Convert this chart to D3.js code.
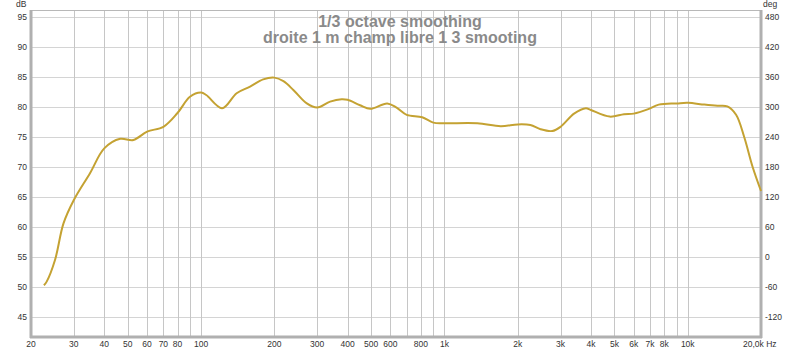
<!DOCTYPE html>
<html>
<head>
<meta charset="utf-8">
<script src="https://cdn.jsdelivr.net/npm/d3@7/dist/d3.min.js"></script>
<style>
  body { margin: 0; background: #fff; }
  svg text { font-family: "Liberation Sans", Arial, sans-serif; }
</style>
</head>
<body>
<svg id="chart" width="800" height="352"></svg>
<script>
// frequency response (Hz, dB)
const freqs = [22.6, 23.2, 25.1, 27.2, 30, 35, 40, 46.5, 52.7, 60, 70, 80, 90, 100, 105, 122, 140, 159, 180, 200, 218, 240, 272, 300, 339, 378, 400, 450, 496, 582, 636, 700, 810, 900, 1000, 1366, 1704, 2000, 2256, 2482, 2775, 3000, 3410, 3814, 4000, 4778, 5468, 6000, 6840, 7600, 9000, 10000, 11700, 13240, 14540, 15800, 17060, 18480, 20000];
const spl   = [50.3, 50.9, 54.5, 60.6, 64.5, 69.0, 73.1, 74.7, 74.5, 75.9, 76.7, 79.0, 81.7, 82.4, 82.0, 79.8, 82.3, 83.4, 84.6, 84.9, 84.3, 82.8, 80.6, 79.9, 80.9, 81.3, 81.2, 80.3, 79.7, 80.6, 79.9, 78.7, 78.3, 77.4, 77.3, 77.3, 76.8, 77.1, 77.0, 76.3, 76.0, 76.7, 78.9, 79.8, 79.5, 78.4, 78.8, 78.9, 79.6, 80.4, 80.6, 80.7, 80.4, 80.2, 80.1, 78.7, 75.0, 70.0, 66.0];

const xTicks  = [20, 30, 40, 50, 60, 70, 80, 100, 200, 300, 400, 500, 600, 800, 1000, 2000, 3000, 4000, 5000, 6000, 7000, 8000, 10000, 20000];
const xLabels = ["20", "30", "40", "50", "60", "70", "80", "100", "200", "300", "400", "500", "600", "800", "1k", "2k", "3k", "4k", "5k", "6k", "7k", "8k", "10k", "20,0k Hz"];
const xGrid   = [30, 40, 50, 60, 70, 80, 90, 100, 200, 300, 400, 500, 600, 700, 800, 900, 1000, 2000, 3000, 4000, 5000, 6000, 7000, 8000, 9000, 10000];
const dbTicks  = [45, 50, 55, 60, 65, 70, 75, 80, 85, 90, 95];
const degTicks = [-120, -60, 0, 60, 120, 180, 240, 300, 360, 420, 480];

const titles = ["1/3 octave smoothing", "droite 1 m champ libre 1 3 smooting"];

const svg    = d3.select("#chart"),
      pLeft  = 31, pRight = 761, pTop = 10, pBottom = 337;

const x = d3.scaleLog().domain([20, 20000]).range([pLeft, pRight]);
const y = d3.scaleLinear().domain([41.67, 96.17]).range([pBottom, pTop]);
// phase axis: 480 deg sits on 95 dB, -120 deg on 45 dB
const yDeg = d3.scaleLinear().domain([-160, 494]).range([pBottom, pTop]);

// grid
svg.append("g").selectAll("line")
  .data(dbTicks)
  .enter().append("line")
    .attr("x1", pLeft).attr("x2", pRight)
    .attr("y1", d => Math.round(y(d)) + 0.5)
    .attr("y2", d => Math.round(y(d)) + 0.5)
    .attr("stroke", "#d4d4d4");

svg.append("g").selectAll("line")
  .data(xGrid)
  .enter().append("line")
    .attr("x1", d => Math.round(x(d)) + 0.5)
    .attr("x2", d => Math.round(x(d)) + 0.5)
    .attr("y1", pTop).attr("y2", pBottom)
    .attr("stroke", "#c6c6c6");

// frame
svg.append("line").attr("x1", pLeft).attr("x2", pRight).attr("y1", pTop + 0.5).attr("y2", pTop + 0.5)
  .attr("stroke", "#b8b8b8");
svg.append("line").attr("x1", pLeft).attr("x2", pLeft).attr("y1", pTop).attr("y2", pBottom + 1)
  .attr("stroke", "#b0b0b0").attr("stroke-width", 3);
svg.append("line").attr("x1", pRight).attr("x2", pRight).attr("y1", pTop).attr("y2", pBottom + 1)
  .attr("stroke", "#b0b0b0").attr("stroke-width", 3);
svg.append("line").attr("x1", pLeft - 1).attr("x2", pRight + 1).attr("y1", pBottom).attr("y2", pBottom)
  .attr("stroke", "#b0b0b0").attr("stroke-width", 3);

// titles
svg.append("g").selectAll("text")
  .data(titles)
  .enter().append("text")
    .attr("x", 400)
    .attr("y", (d, i) => 27 + i * 16)
    .attr("text-anchor", "middle")
    .style("font-size", "16px")
    .style("font-weight", "bold")
    .attr("fill", "#8a8a8a")
    .text(d => d);

// curve
const pts = freqs.map((f, i) => [f, spl[i]]);
svg.append("path")
  .datum(pts)
  .attr("fill", "none")
  .attr("stroke", "#c4a232")
  .attr("stroke-width", 2)
  .attr("d", d3.line().x(d => x(d[0])).y(d => y(d[1])).curve(d3.curveCatmullRom.alpha(0.5)));

// axis labels
svg.append("g").selectAll("text")
  .data(dbTicks)
  .enter().append("text")
    .attr("x", 27)
    .attr("y", d => y(d) + 3)
    .attr("text-anchor", "end")
    .style("font-size", "8.5px")
    .attr("fill", "#333")
    .text(d => d);

svg.append("g").selectAll("text")
  .data(degTicks)
  .enter().append("text")
    .attr("x", 765)
    .attr("y", d => yDeg(d) + 3)
    .style("font-size", "8.5px")
    .attr("fill", "#333")
    .text(d => d);

svg.append("g").selectAll("text")
  .data(xTicks)
  .enter().append("text")
    .attr("x", d => x(d))
    .attr("y", 347)
    .attr("text-anchor", (d, i) => i === xTicks.length - 1 ? "start" : "middle")
    .attr("dx", (d, i) => i === xTicks.length - 1 ? -18 : 0)
    .style("font-size", "8.5px")
    .attr("fill", "#333")
    .text((d, i) => xLabels[i]);

svg.append("text").attr("x", 16).attr("y", 7).style("font-size", "8.5px").attr("fill", "#333").text("dB");
svg.append("text").attr("x", 763).attr("y", 7).style("font-size", "8.5px").attr("fill", "#333").text("deg");
</script>
</body>
</html>
